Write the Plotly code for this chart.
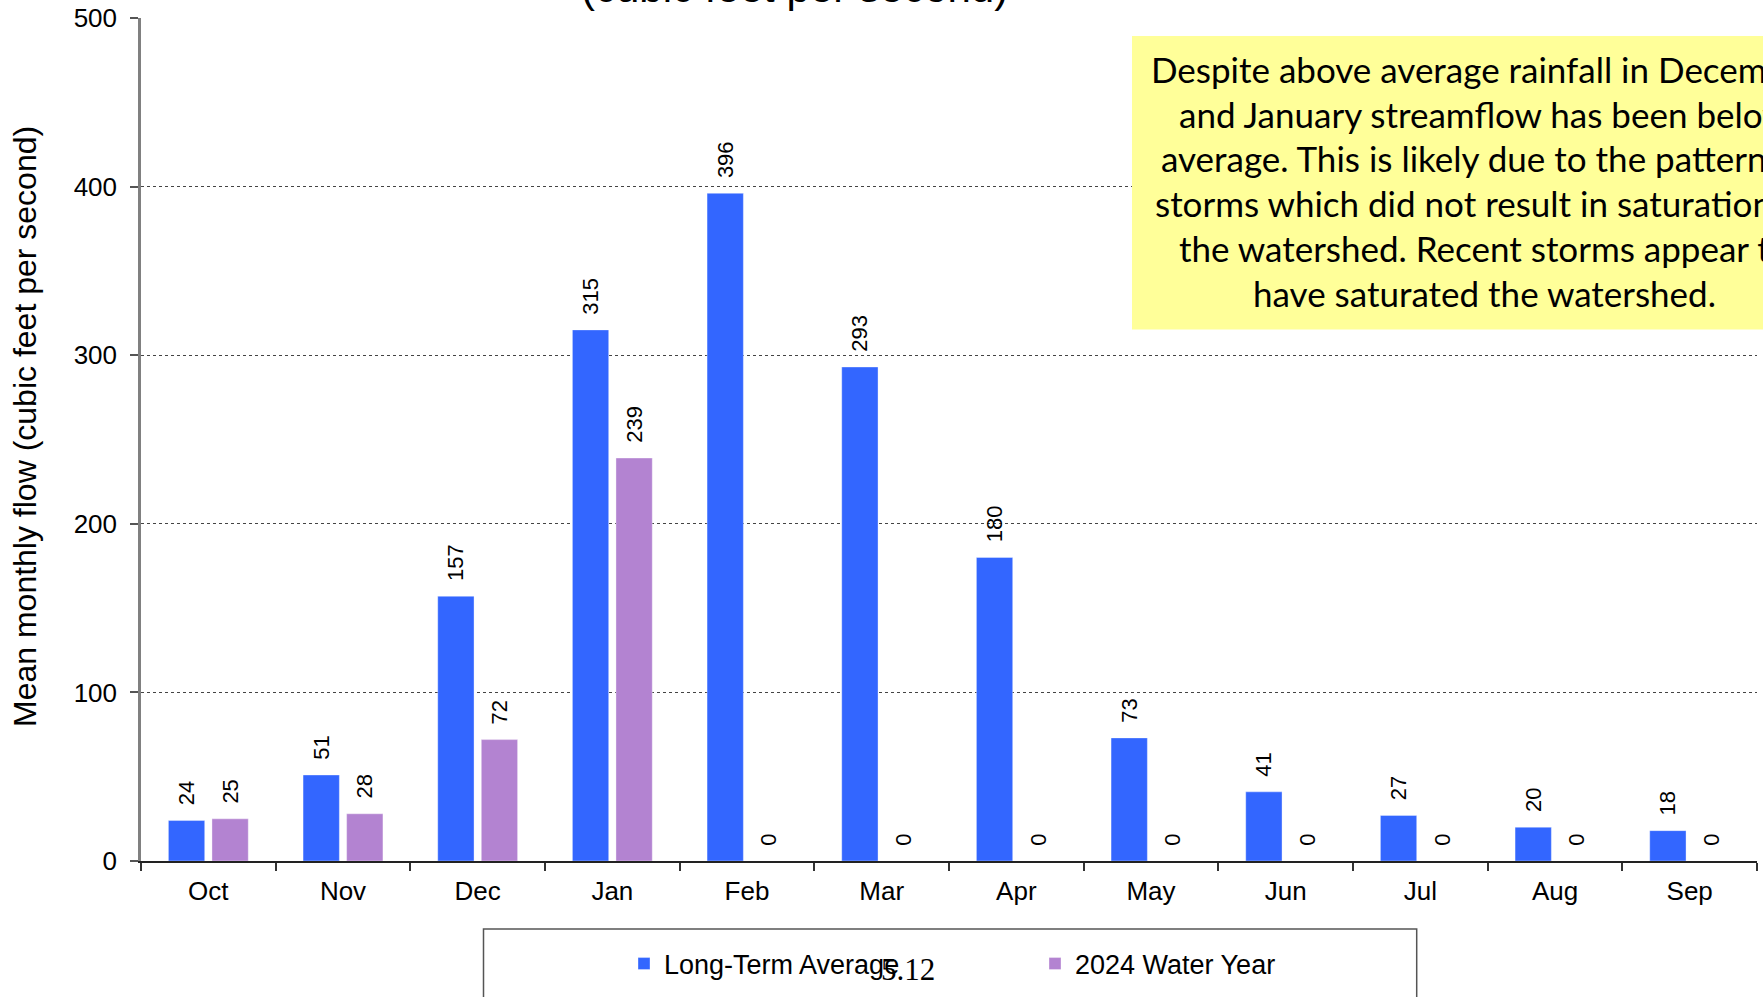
import plotly.graph_objects as go

# ---------------- data ----------------
months = ["Oct", "Nov", "Dec", "Jan", "Feb", "Mar", "Apr", "May", "Jun", "Jul", "Aug", "Sep"]
long_term_avg = [24, 51, 157, 315, 396, 293, 180, 73, 41, 27, 20, 18]
water_year_2024 = [25, 28, 72, 239, 0, 0, 0, 0, 0, 0, 0, 0]
series_names = ["Long-Term Average", "2024 Water Year"]
y_tick_vals = [0, 100, 200, 300, 400, 500]
grid_vals = [100, 200, 300, 400]
y_title = "Mean monthly flow (cubic feet per second)"
title_tail = "(cubic feet per second)"
note_lines = [
    "Despite above average rainfall in December",
    "and January streamflow has been below",
    "average. This is likely due to the pattern of",
    "storms which did not result in saturation of",
    "the watershed. Recent storms appear to",
    "have saturated the watershed.",
]
page_label = "5.12"

# ---------------- styling ----------------
W, H = 1763, 997
L, R, T, B = 141, 6, 18, 136
PLOT_W = W - L - R
PLOT_H = H - T - B
BLUE = "#3366FF"
PURPLE = "#B383D1"
FONT = "Arial, Liberation Sans, sans-serif"


def px_x(p):
    return (p - L) / PLOT_W


def px_y(p):
    return (H - B - p) / PLOT_H


fig = go.Figure()
for name, vals, color in [(series_names[0], long_term_avg, BLUE),
                          (series_names[1], water_year_2024, PURPLE)]:
    fig.add_trace(go.Bar(
        x=months, y=vals, name=name,
        marker=dict(color=color, line=dict(color="rgba(255,255,255,0.35)", width=1)),
        texttemplate="\u00a0\u00a0%{y}", textposition="outside", textangle=-90,
        textfont=dict(size=22, color="black", family=FONT),
        constraintext="none", cliponaxis=False, hoverinfo="skip",
    ))

# empty trace carrying the gridline overlay axis
fig.add_trace(go.Scatter(x=[], y=[], yaxis="y2", showlegend=False, hoverinfo="skip"))

fig.update_layout(
    width=W, height=H,
    margin=dict(l=L, r=R, t=T, b=B, autoexpand=False),
    paper_bgcolor="white", plot_bgcolor="white",
    font=dict(family=FONT, color="black"),
    barmode="group", bargap=0.353, bargroupgap=0.167,
    showlegend=True,
    legend=dict(
        orientation="h", x=px_x(624), y=px_y(964), xanchor="left", yanchor="middle",
        font=dict(size=27, family=FONT), entrywidth=366, entrywidthmode="pixels",
        bgcolor="rgba(0,0,0,0)", borderwidth=0,
    ),
    xaxis=dict(
        type="category", tickson="boundaries", ticks="outside", ticklen=8,
        tickwidth=1.5, tickcolor="#333", showline=True, linecolor="#222",
        linewidth=1.5, showgrid=False, zeroline=False,
        tickfont=dict(size=26, family=FONT), ticklabelstandoff=6,
    ),
    yaxis=dict(
        range=[0, 500], tickvals=y_tick_vals, showgrid=False, zeroline=False,
        showline=True, linecolor="#808080", linewidth=2.5, ticks="outside",
        ticklen=8, tickcolor="#555", tickwidth=1.5,
        tickfont=dict(size=26, family=FONT), ticklabelstandoff=8,
    ),
    yaxis2=dict(
        overlaying="y", anchor="x", range=[0, 500], tickvals=grid_vals,
        showgrid=True, gridcolor="#444", griddash="dot", gridwidth=1,
        showticklabels=False, zeroline=False, showline=False, ticks="",
    ),
)

# y-axis title (placed as rotated text so it sits where the reference has it)
fig.add_annotation(text=y_title, xref="paper", yref="paper",
                   x=px_x(25), y=px_y(427), xanchor="center", yanchor="middle",
                   textangle=-90, showarrow=False,
                   font=dict(size=32, family=FONT, color="black"))

# yellow note box
fig.add_shape(type="rect", xref="paper", yref="paper",
              x0=px_x(1132), x1=px_x(1900), y0=px_y(329.5), y1=px_y(36),
              fillcolor="#FFFF99", line=dict(width=0), layer="above")
# legend frame
fig.add_shape(type="rect", xref="paper", yref="paper",
              x0=px_x(483.5), x1=px_x(1416.7), y0=px_y(1100), y1=px_y(929),
              fillcolor="rgba(0,0,0,0)", line=dict(color="#555", width=1.5), layer="above")

# title (only the bottom line peeks in at the top of the frame)
fig.add_annotation(text=title_tail, xref="paper", yref="paper",
                   x=px_x(794), y=px_y(-12.5), xanchor="center", yanchor="middle",
                   showarrow=False, font=dict(size=42, family=FONT, color="black"))

# note text lines
for i, line in enumerate(note_lines):
    fig.add_annotation(text=line, xref="paper", yref="paper",
                       x=px_x(1484), y=px_y(68.7 + i * 44.8), xanchor="center", yanchor="middle",
                       showarrow=False, font=dict(size=35, family="Lato, sans-serif", color="black"))

# page number overlapping the legend
fig.add_annotation(text=page_label, xref="paper", yref="paper",
                   x=px_x(908), y=px_y(969), xanchor="center", yanchor="middle",
                   showarrow=False, font=dict(size=31, family="Liberation Serif, serif", color="black"))

fig.write_html("out.html")
